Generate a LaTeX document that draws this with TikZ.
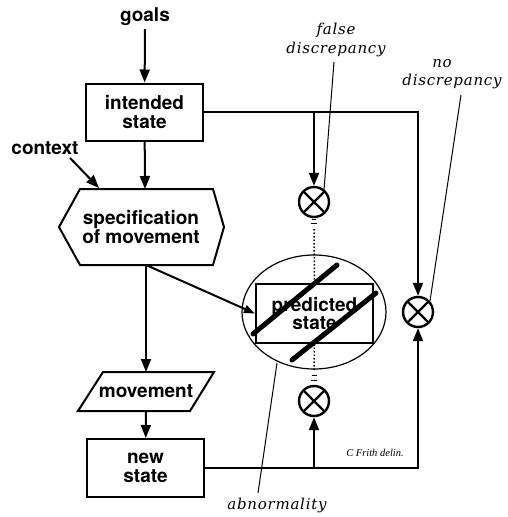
\documentclass[tikz,border=0pt]{standalone}
\usepackage{fontspec}
\setmainfont{Liberation Serif}
\newfontfamily\heros{TeX Gyre Heros}
\newfontfamily\itserif{DejaVu Serif}[LetterSpace=5]
\usetikzlibrary{arrows.meta}
\tikzset{
  lbl/.style={font=\heros\bfseries\fontsize{19}{18.5}\selectfont, align=center, inner sep=0pt},
  box/.style={draw, line width=2pt, minimum width=117pt, minimum height=57pt, inner sep=0pt, lbl},
  conn/.style={line width=2pt},
  arr/.style={conn, -{Triangle[length=13pt,width=10pt]}},
  smallarr/.style={conn, -{Triangle[length=11pt,width=8pt]}},
  note/.style={font=\itserif\itshape\fontsize{15}{18.5}\selectfont, align=center, inner sep=0pt},
  pointer/.style={line width=1pt},
  comparator/.style={circle, draw, line width=2.4pt, minimum size=30pt, inner sep=0pt,
    path picture={\draw[line width=2.4pt]
      (path picture bounding box.north west) -- (path picture bounding box.south east)
      (path picture bounding box.north east) -- (path picture bounding box.south west);}},
  dots/.style={line width=1.5pt, dash pattern=on 1.5pt off 2pt},
  strike/.style={line width=5pt, line cap=round},
}
\begin{document}
\begin{tikzpicture}[x=1pt,y=-1pt]
\useasboundingbox (0,0) rectangle (507,517);

% main column
\node[lbl] (goals) at (145,17) {goals};
\node[box] (intended) at (144.5,112) {intended\\state};
\node[lbl] (context) at (45,148) {context};
\coordinate (ctxFrom) at (70,158);
\coordinate (ctxTo) at (99,188);

% hexagon: specification of movement
\coordinate (hL) at (59,227);
\coordinate (hTL) at (80,189);
\coordinate (hTR) at (213,189);
\coordinate (hR) at (224,227);
\coordinate (hBR) at (213,265);
\coordinate (hBL) at (80,265);
\draw[line width=2pt, line join=miter] (hL) -- (hTL) -- (hTR) -- (hR) -- (hBR) -- (hBL) -- cycle;
\node[lbl] (spec) at (141,227) {specification\\of movement};
\coordinate (hexTop) at (145,189);
\coordinate (hexBot) at (146,265);

% parallelogram: movement
\coordinate (mTL) at (103,372);
\coordinate (mTR) at (214,372);
\coordinate (mBR) at (190,411);
\coordinate (mBL) at (78,411);
\draw[line width=2pt] (mTL) -- (mTR) -- (mBR) -- (mBL) -- cycle;
\node[lbl] (movement) at (146,391) {movement};
\coordinate (movTop) at (146,372);
\coordinate (movBot) at (146,411);

\node[box, minimum height=58pt] (newstate) at (145.5,468) {new\\state};

% predicted state
\draw[line width=1.2pt] (314,312) ellipse [x radius=72, y radius=57];
\node[box, minimum height=59pt] (predicted) at (314.5,313.5) {predicted\\state};
\draw[strike] (253,334) -- (337,265);
\draw[strike] (292,360) -- (376,293);

% comparators
\node[comparator] (ctop) at (314,202) {};
\node[comparator] (cbot) at (314,401) {};
\node[comparator] (cright) at (418,312) {};

% arrows
\draw[arr, shorten <=3pt] (goals) -- (intended);
\draw[arr] (intended) -- (hexTop);
\draw[arr] (ctxFrom) -- (ctxTo);
\draw[arr] (hexBot) -- (movTop);
\draw[smallarr] (hexBot) -- (predicted.west);
\draw[arr] (movBot) -- (newstate);
\draw[arr] (intended.east) -| (cright.north);
\draw[arr] (ctop |- intended.east) -- (ctop.north);
\draw[arr] (newstate.east) -| (cright.south);
\draw[arr] (cbot |- newstate.east) -- (cbot.south);

% dotted link
\draw[dots] (314,229) -- (predicted.north);
\draw[dots] (predicted.south) -- (314,371);
\draw[line width=1pt] (312,219) -- (316,219) (311,223) -- (317,223);
\draw[line width=1pt] (311.5,375) -- (316.5,375) (311,380) -- (317,380);

% annotations
\node[note] (falseLbl) at (336,40) {false\\discrepancy};
\node[note] (noLbl) at (452,74) {no\hspace*{20pt}\\discrepancy};
\node[note] (abnLbl) at (277,505) {abnormality};
\node[font=\itshape\fontsize{10.5}{12}\selectfont, inner sep=0pt] (credit) at (375,453) {C Frith delin.};
\coordinate (falseEnd) at (324,190);
\coordinate (noEnd) at (430,301);
\coordinate (abnEnd) at (277,363);
\draw[pointer] (334,62) -- (falseEnd);
\draw[pointer] (461,95) -- (noEnd);
\draw[pointer] (258,493) -- (abnEnd);
\end{tikzpicture}
\end{document}
